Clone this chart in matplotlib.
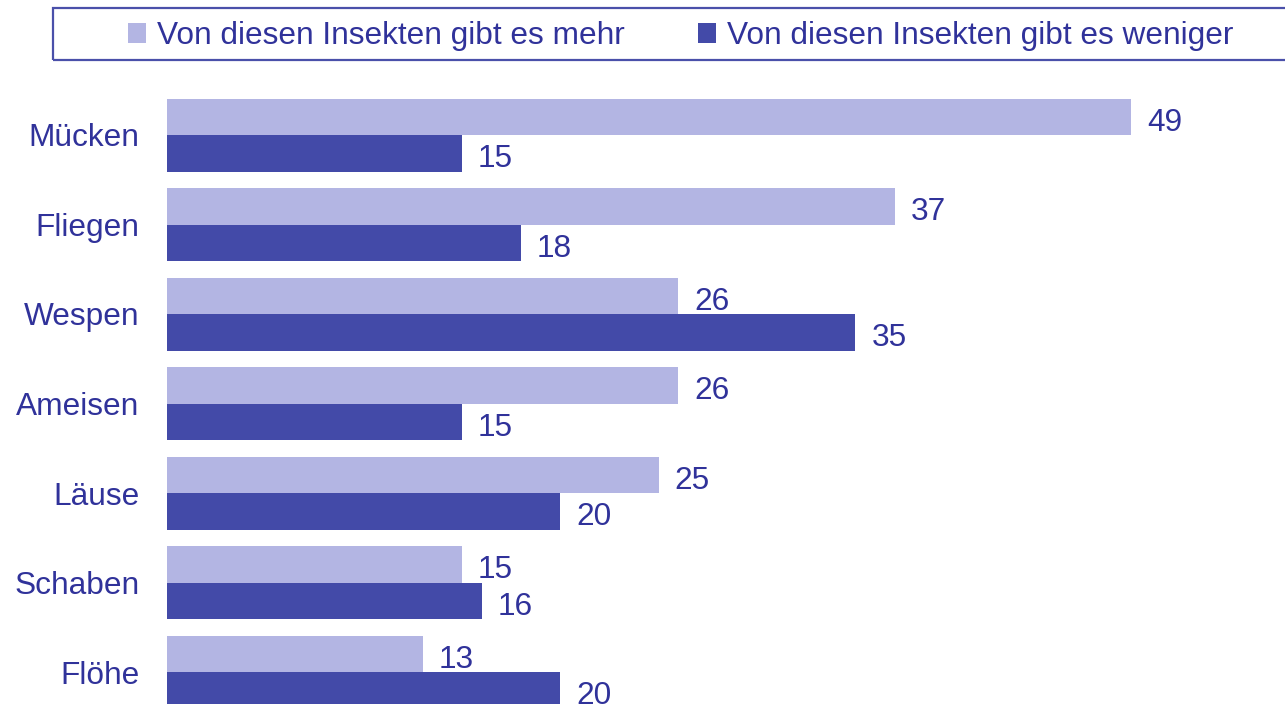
import matplotlib
matplotlib.use("Agg")
import matplotlib.pyplot as plt
from matplotlib.patches import Rectangle, Patch
import numpy as np

categories = ["Mücken", "Fliegen", "Wespen", "Ameisen", "Läuse", "Schaben", "Flöhe"]
mehr = [49, 37, 26, 26, 25, 15, 13]
weniger = [15, 18, 35, 15, 20, 16, 20]
series_labels = ["Von diesen Insekten gibt es mehr", "Von diesen Insekten gibt es weniger"]

light = "#b3b5e3"
dark = "#434aa8"
txt = "#30329a"
frame_col = "#4a50aa"

plt.rcParams['font.family'] = ['Liberation Sans', 'DejaVu Sans']
W, H = 1285, 704
fig = plt.figure(figsize=(W / 100, H / 100), dpi=100)

# axes placement in pixels
left_px, right_px = 167, 1284
top_px, bottom_px = 80, 704
ax = fig.add_axes([left_px / W, 1 - bottom_px / H, (right_px - left_px) / W, (bottom_px - top_px) / H])

px_per_unit = 19.67
ax.set_xlim(0, (right_px - left_px) / px_per_unit)
pitch = 89.5
c0 = 135
ax.set_ylim((bottom_px - c0) / pitch, (top_px - c0) / pitch)

y = np.arange(len(categories))
h = 36.5 / pitch
ax.barh(y - h / 2, mehr, height=h, color=light, linewidth=0)
ax.barh(y + h / 2, weniger, height=h, color=dark, linewidth=0)

fs = 22.8
off = 16 / px_per_unit
dy = 0.065
for i, (a, b) in enumerate(zip(mehr, weniger)):
    ax.text(a + off, i - h / 2 + dy, str(a), va='center', ha='left', fontsize=fs, color=txt)
    ax.text(b + off, i + h / 2 + dy, str(b), va='center', ha='left', fontsize=fs, color=txt)

ax.set_yticks(y)
ax.set_yticklabels(categories, fontsize=fs, color=txt)
ax.tick_params(axis='y', length=0, pad=20)
ax.set_xticks([])
for s in ax.spines.values():
    s.set_visible(False)

# legend frame
fig.patches.append(Rectangle((53 / W, 1 - 60 / H), (1300 - 53) / W, 52 / H,
                             transform=fig.transFigure, fill=False,
                             edgecolor=frame_col, linewidth=1.6))
handles = [Patch(facecolor=light, edgecolor='none'), Patch(facecolor=dark, edgecolor='none')]
fig.legend(handles, series_labels, loc='center left', bbox_to_anchor=(128 / W, 1 - 36 / H),
           ncol=2, frameon=False, fontsize=fs, labelcolor=txt,
           handlelength=0.57, handleheight=0.57, handletextpad=0.35,
           columnspacing=2.3, borderpad=0, borderaxespad=0)

fig.savefig("out.png", dpi=100)
